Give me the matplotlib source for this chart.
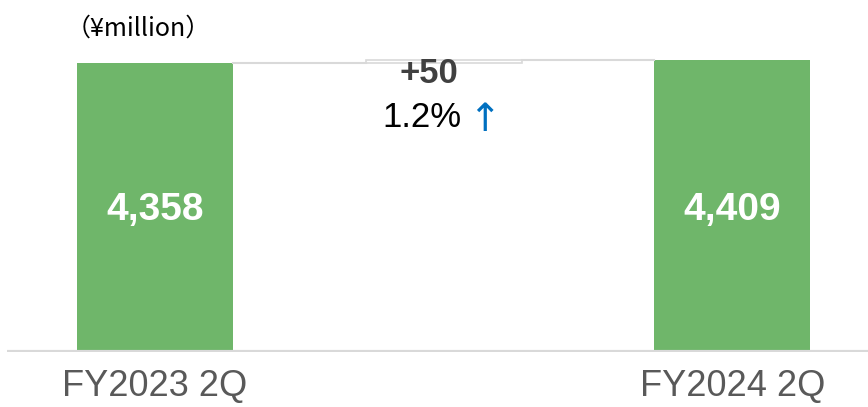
import matplotlib.pyplot as plt

categories = ["FY2023 2Q", "", "FY2024 2Q"]
start_value = 4358
end_value = 4409
change = 50
change_pct = 1.2

fig = plt.figure(figsize=(8.68, 4.07), dpi=100)
ax = fig.add_axes([7 / 868, 55 / 407, 861 / 868, 352 / 407])

green = "#6FB66A"
grey = "#D9D9D9"
width = 0.54

ax.bar(0, start_value, width=width, color=green)
ax.bar(2, end_value, width=width, color=green)
# thin white bar for the change, outlined in grey
ax.bar(1, change, bottom=start_value, width=width, color="white",
       edgecolor=grey, linewidth=1.2)

# connectors between bars
ax.plot([width / 2, 1 - width / 2], [start_value, start_value], color=grey, lw=1.5)
ax.plot([1 + width / 2, 2 - width / 2], [start_value + change, start_value + change],
        color=grey, lw=1.5)

for x, v in [(0, start_value), (2, end_value)]:
    ax.text(x, 2140, f"{v:,}", ha="center", va="center", color="white",
            fontsize=28, fontweight="bold", family="Liberation Sans")

ax.text(0.95, 4200, f"+{change}", ha="center", va="center", color="#404040",
        fontsize=25, fontweight="bold", family="Liberation Sans")
ax.text(1.06, 3530, f"{change_pct}%", ha="right", va="center", color="black",
        fontsize=25, family="Liberation Sans")
ax.text(1.14, 3500, "\u2191", ha="center", va="center", color="#0070C0",
        fontsize=28, family=["DejaVu Sans"])

ax.text(-0.31, 4870, "\uff08\u00a5million\uff09", ha="left", va="center", color="black",
        fontsize=18, family=["Noto Sans CJK JP", "DejaVu Sans"])

ax.axhline(0, color=grey, lw=3, solid_capstyle="round")
ax.set_xlim(-0.513, 2.47)
ax.set_ylim(0, start_value * 352 / 289)
ax.set_xticks([0, 2])
ax.set_xticklabels([categories[0], categories[2]], fontsize=26, color="#595959",
                   family="Liberation Sans")
ax.tick_params(axis="x", length=0, pad=12)
ax.set_yticks([])
for s in ax.spines.values():
    s.set_visible(False)

fig.savefig("out.png", dpi=100)
